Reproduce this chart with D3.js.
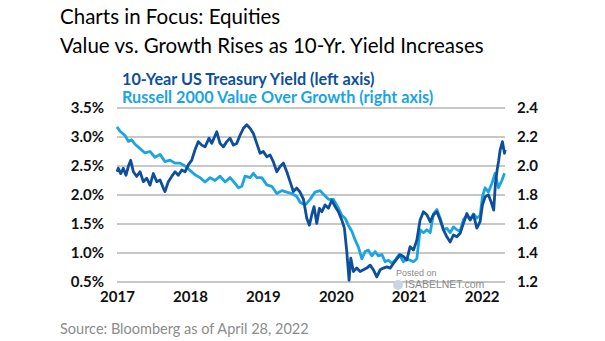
<!DOCTYPE html>
<html>
<head>
<meta charset="utf-8">
<script src="https://cdn.jsdelivr.net/npm/d3@7"></script>
<style>
  body { margin: 0; background: #fff; }
  svg { display: block; font-family: Lato, "Open Sans", sans-serif; }
</style>
</head>
<body>
<script>
// 10-year US Treasury yield, % (left axis); time as decimal years
var yieldYears = [2017.000,2017.018,2017.051,2017.086,2017.123,2017.155,2017.188,2017.224,2017.270,2017.316,
  2017.361,2017.407,2017.453,2017.498,2017.545,2017.590,2017.635,2017.658,2017.704,2017.750,
  2017.796,2017.841,2017.888,2017.933,2017.978,2018.025,2018.070,2018.115,2018.162,2018.207,
  2018.262,2018.299,2018.368,2018.413,2018.458,2018.505,2018.550,2018.595,2018.642,2018.687,
  2018.733,2018.779,2018.824,2018.870,2018.916,2018.962,2019.007,2019.054,2019.099,2019.144,
  2019.191,2019.236,2019.281,2019.328,2019.373,2019.418,2019.465,2019.510,2019.556,2019.602,
  2019.638,2019.671,2019.702,2019.739,2019.775,2019.808,2019.853,2019.899,2019.945,2019.990,
  2020.036,2020.082,2020.118,2020.151,2020.182,2020.206,2020.241,2020.288,2020.333,2020.379,
  2020.425,2020.471,2020.516,2020.562,2020.608,2020.653,2020.700,2020.745,2020.790,2020.837,
  2020.882,2020.927,2020.974,2021.019,2021.065,2021.111,2021.156,2021.202,2021.248,2021.294,
  2021.339,2021.386,2021.431,2021.476,2021.523,2021.568,2021.613,2021.660,2021.705,2021.750,
  2021.797,2021.842,2021.888,2021.934,2021.979,2022.011,2022.048,2022.093,2022.130,2022.165,
  2022.189,2022.212,2022.234,2022.254,2022.285,2022.313,2022.322];
var yieldValues = [2.40,2.46,2.37,2.46,2.34,2.49,2.60,2.40,2.32,2.40,
  2.23,2.29,2.17,2.37,2.23,2.26,2.12,2.06,2.23,2.32,
  2.40,2.34,2.43,2.40,2.52,2.60,2.78,2.92,2.86,2.83,
  2.98,2.89,3.09,2.89,2.83,2.92,2.98,2.86,2.89,3.03,
  3.15,3.21,3.15,3.06,2.89,2.72,2.75,2.66,2.69,2.57,
  2.40,2.49,2.55,2.40,2.23,2.06,2.12,2.05,1.93,1.60,
  1.48,1.66,1.80,1.51,1.77,1.71,1.83,1.77,1.91,1.80,
  1.71,1.57,1.43,1.02,0.53,0.91,0.68,0.74,0.68,0.71,
  0.74,0.79,0.71,0.59,0.71,0.74,0.76,0.74,0.82,0.90,
  0.97,0.94,0.88,1.11,1.05,1.22,1.57,1.71,1.66,1.54,
  1.66,1.71,1.57,1.40,1.28,1.19,1.31,1.28,1.34,1.51,
  1.68,1.57,1.66,1.43,1.54,1.83,1.97,2.00,1.88,1.74,
  2.20,2.43,2.60,2.78,2.92,2.72,2.78];

// Russell 2000 Value / Growth ratio (right axis)
var ratioYears = [2017.000,2017.041,2017.110,2017.155,2017.202,2017.247,2017.316,2017.384,2017.453,2017.521,
  2017.590,2017.658,2017.727,2017.796,2017.864,2017.933,2018.001,2018.070,2018.139,2018.207,
  2018.276,2018.344,2018.413,2018.481,2018.550,2018.619,2018.664,2018.711,2018.756,2018.824,
  2018.870,2018.916,2018.985,2019.054,2019.122,2019.191,2019.259,2019.328,2019.397,2019.465,
  2019.510,2019.579,2019.647,2019.716,2019.785,2019.840,2019.899,2019.967,2020.036,2020.082,
  2020.128,2020.173,2020.220,2020.265,2020.310,2020.357,2020.402,2020.447,2020.494,2020.539,
  2020.584,2020.631,2020.676,2020.722,2020.768,2020.813,2020.868,2020.927,2020.974,2021.019,
  2021.065,2021.111,2021.156,2021.202,2021.248,2021.294,2021.339,2021.386,2021.431,2021.476,
  2021.523,2021.568,2021.613,2021.660,2021.705,2021.750,2021.797,2021.842,2021.888,2021.934,
  2021.979,2022.011,2022.048,2022.093,2022.140,2022.185,2022.230,2022.277,2022.313];
var ratioValues = [2.27,2.24,2.21,2.17,2.18,2.15,2.12,2.09,2.10,2.06,
  2.08,2.03,2.04,2.02,2.02,2.00,1.97,1.94,1.92,1.89,
  1.92,1.90,1.93,1.89,1.92,1.88,1.85,1.86,1.93,1.92,
  1.95,1.92,1.92,1.87,1.86,1.81,1.83,1.82,1.81,1.79,
  1.75,1.73,1.77,1.82,1.83,1.80,1.77,1.77,1.71,1.66,
  1.64,1.59,1.55,1.49,1.44,1.36,1.41,1.42,1.38,1.41,
  1.38,1.39,1.34,1.35,1.33,1.35,1.39,1.34,1.36,1.35,
  1.34,1.36,1.56,1.54,1.56,1.54,1.67,1.70,1.64,1.56,
  1.57,1.54,1.58,1.56,1.55,1.63,1.66,1.63,1.67,1.64,
  1.66,1.79,1.85,1.82,1.88,1.95,1.85,1.90,1.95];

var leftTicks = [0.5, 1.0, 1.5, 2.0, 2.5, 3.0, 3.5];
var rightTicks = [1.2, 1.4, 1.6, 1.8, 2.0, 2.2, 2.4];
var yearTicks = [2017, 2018, 2019, 2020, 2021, 2022];

var darkBlue = "#0d4f9c", lightBlue = "#1ba4e2";

var W = 605, H = 341;
var svg = d3.select("body").append("svg").attr("width", W).attr("height", H);

var x = d3.scaleLinear().domain([2017, 2022.32]).range([117, 505]);
var yL = d3.scaleLinear().domain([0.5, 3.5]).range([282, 108]);
var yR = d3.scaleLinear().domain([1.2, 2.4]).range([282, 108]);

// titles
svg.append("text").attr("x", 60).attr("y", 24)
    .attr("font-size", 20.5).attr("fill", "#000")
    .text("Charts in Focus: Equities");
svg.append("text").attr("x", 60).attr("y", 53)
    .attr("font-size", 20.5).attr("fill", "#000")
    .text("Value vs. Growth Rises as 10-Yr. Yield Increases");

// legend
svg.append("text").attr("x", 122).attr("y", 85)
    .attr("font-size", 16.2).attr("font-weight", "bold").attr("fill", darkBlue)
    .text("10-Year US Treasury Yield (left axis)");
svg.append("text").attr("x", 122).attr("y", 103)
    .attr("font-size", 16.2).attr("font-weight", "bold").attr("fill", lightBlue)
    .text("Russell 2000 Value Over Growth (right axis)");

// gridlines
svg.append("g").selectAll("line").data(leftTicks).enter().append("line")
    .attr("x1", 117).attr("x2", 505)
    .attr("y1", d => yL(d)).attr("y2", d => yL(d))
    .attr("stroke", "#b4b4b4").attr("stroke-width", 1.5);

// left axis
var axL = svg.append("g").attr("transform", "translate(104,0)")
    .call(d3.axisLeft(yL).tickValues(leftTicks).tickSize(0).tickPadding(0)
        .tickFormat(d => d3.format(".1f")(d) + "%"));
// right axis
var axR = svg.append("g").attr("transform", "translate(517,0)")
    .call(d3.axisRight(yR).tickValues(rightTicks).tickSize(0).tickPadding(0)
        .tickFormat(d3.format(".1f")));
// bottom axis
var axB = svg.append("g").attr("transform", "translate(0,291)")
    .call(d3.axisBottom(x).tickValues(yearTicks)
        .tickSize(0).tickPadding(0).tickFormat(d3.format("d")));

[axL, axR, axB].forEach(function(g) {
    g.select(".domain").remove();
    g.selectAll("text").attr("font-family", "Lato, 'Open Sans', sans-serif")
        .attr("font-size", 15).attr("font-weight", "bold").attr("fill", "#111");
});
axB.selectAll("text").attr("dy", "0.75em");

// watermark
svg.append("text").attr("x", 396).attr("y", 276)
    .attr("font-family", "Liberation Sans, Arial, sans-serif")
    .attr("font-size", 9).attr("fill", "#8a8a8a").text("Posted on");
svg.append("circle").attr("cx", 398).attr("cy", 285).attr("r", 5)
    .attr("fill", "#c9d6e2");
svg.append("text").attr("x", 405).attr("y", 288)
    .attr("font-family", "Liberation Sans, Arial, sans-serif")
    .attr("font-size", 10.5).attr("fill", "#8a8a8a").text("ISABELNET.com");

// series
var line = d3.line();
function points(years, values, yScale) {
    return years.map((t, i) => [x(t), yScale(values[i])]);
}

svg.append("path").attr("d", line(points(ratioYears, ratioValues, yR)))
    .attr("fill", "none").attr("stroke", lightBlue).attr("stroke-width", 2.8)
    .attr("stroke-linejoin", "round");
svg.append("path").attr("d", line(points(yieldYears, yieldValues, yL)))
    .attr("fill", "none").attr("stroke", darkBlue).attr("stroke-width", 2.8)
    .attr("stroke-linejoin", "round");

// source
svg.append("text").attr("x", 60).attr("y", 334)
    .attr("font-size", 14.5).attr("fill", "#8c8c8c")
    .text("Source: Bloomberg as of April 28, 2022");
</script>
</body>
</html>
